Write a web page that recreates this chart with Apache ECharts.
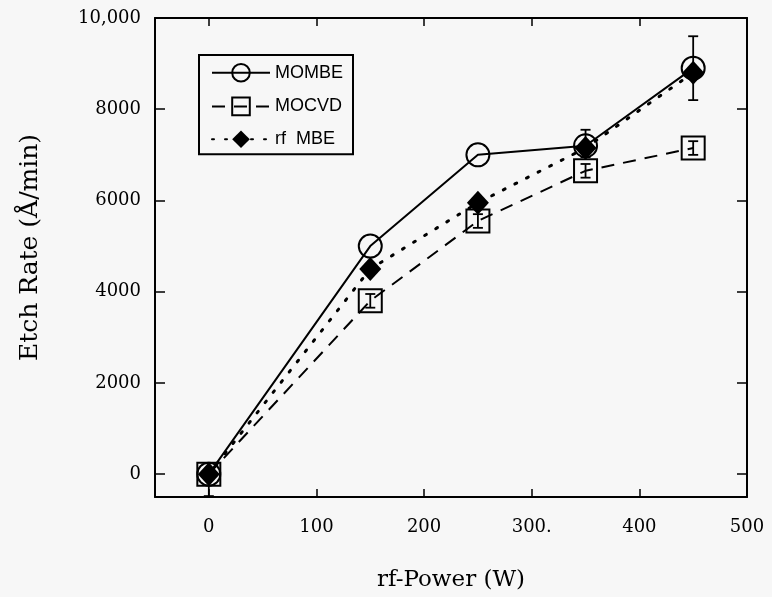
<!DOCTYPE html>
<html><head><meta charset="utf-8">
<script src="https://cdn.jsdelivr.net/npm/echarts@6/dist/echarts.min.js"></script>
<style>html,body{margin:0;padding:0;background:#f7f7f7}#c{width:772px;height:597px}</style>
</head><body><div id="c"></div>
<script>
const power = [0, 150, 250, 350, 450];
const mombe = [0, 5000, 7000, 7200, 8900];
const mocvd = [0, 3800, 5550, 6650, 7150];
const rfmbe = [0, 4500, 5950, 7150, 8800];
// [x, low, high]
const errBars = [[450, 8200, 9600], [350, 6950, 7550], [150, 3650, 3950], [250, 5400, 5700], [350, 6500, 6800], [450, 7000, 7300], [0, -480, 0]];
const xTicks = [0, 100, 200, 300, 400];
const xLabelValues = [0, 100, 200, 300, 400, 500];
const xLabels = ['0', '100', '200', '300.', '400', '500'];
const yTicks = [0, 2000, 4000, 6000, 8000];
const yLabelValues = [0, 2000, 4000, 6000, 8000, 10000];
const yLabels = ['0', '2000', '4000', '6000', '8000', '10,000'];

const serif = 'DejaVu Serif';
const pair = (xs, ys) => xs.map((x, i) => [x, ys[i]]);
const axLine = {show: true, onZero: false, lineStyle: {color: '#000', width: 2}};
const tickStyle = {lineStyle: {color: '#000', width: 1.5}};

const chart = echarts.init(document.getElementById('c'));
chart.setOption({
  backgroundColor: '#f7f7f7',
  animation: false,
  grid: {left: 155, right: 25, top: 18, bottom: 100},
  legend: {
    orient: 'vertical', left: 199, top: 55,
    padding: [8, 10, 6, 12], itemGap: 14, itemWidth: 58, itemHeight: 22,
    borderColor: '#000', borderWidth: 2,
    textStyle: {fontFamily: 'Liberation Sans', fontSize: 18, color: '#000'},
    data: ['MOMBE', 'MOCVD', 'rf  MBE']
  },
  xAxis: [{
    type: 'value', min: -50, max: 500, position: 'bottom',
    axisLine: axLine, splitLine: {show: false},
    axisTick: Object.assign({inside: true, length: 8, customValues: xTicks}, tickStyle),
    axisLabel: {customValues: xLabelValues, margin: 21, fontFamily: serif, fontSize: 18, color: '#000',
      formatter: v => xLabels[xLabelValues.indexOf(v)], showMaxLabel: true, showMinLabel: true},
    name: 'rf-Power (W)', nameLocation: 'middle', nameGap: 72,
    nameTextStyle: {fontFamily: serif, fontSize: 23, color: '#000'}
  }, {
    type: 'value', min: -50, max: 500, position: 'top',
    axisLine: axLine, splitLine: {show: false},
    axisTick: Object.assign({inside: true, length: 8, customValues: xTicks}, tickStyle),
    axisLabel: {show: false}
  }],
  yAxis: [{
    type: 'value', min: -500, max: 10000, position: 'left',
    axisLine: axLine, splitLine: {show: false},
    axisTick: Object.assign({inside: true, length: 10, customValues: yTicks}, tickStyle),
    axisLabel: {customValues: yLabelValues, margin: 14, fontFamily: serif, fontSize: 18, color: '#000',
      formatter: v => yLabels[yLabelValues.indexOf(v)], showMaxLabel: true},
    name: 'Etch Rate (Å/min)', nameLocation: 'middle', nameGap: 112,
    nameTextStyle: {fontFamily: serif, fontSize: 25, color: '#000', padding: [0, 0, 0, 20]}
  }, {
    type: 'value', min: -500, max: 10000, position: 'right',
    axisLine: axLine, splitLine: {show: false},
    axisTick: Object.assign({inside: true, length: 10, customValues: yTicks}, tickStyle),
    axisLabel: {show: false}
  }],
  series: [{
    name: 'MOCVD', type: 'line', data: pair(power, mocvd), z: 2,
    symbol: 'rect', symbolSize: [23, 23],
    lineStyle: {color: '#000', width: 2, type: [13, 9]},
    itemStyle: {color: 'rgba(0,0,0,0)', borderColor: '#000', borderWidth: 2}
  }, {
    name: 'MOMBE', type: 'line', data: pair(power, mombe), z: 3,
    symbol: 'circle', symbolSize: 23,
    lineStyle: {color: '#000', width: 2},
    itemStyle: {color: 'rgba(0,0,0,0)', borderColor: '#000', borderWidth: 2}
  }, {
    name: 'rf  MBE', type: 'line', data: pair(power, rfmbe), z: 4,
    symbol: 'diamond', symbolSize: [22, 24],
    lineStyle: {color: '#000', width: 3, type: [2, 11], cap: 'round'},
    itemStyle: {color: '#000', borderColor: '#000', borderWidth: 0}
  }, {
    type: 'custom', z: 5, data: errBars,
    renderItem: (params, api) => {
      const top = api.coord([api.value(0), api.value(2)]);
      const bot = api.coord([api.value(0), api.value(1)]);
      const w = 5;
      const st = {stroke: '#000', lineWidth: 1.8};
      return {type: 'group', children: [
        {type: 'line', shape: {x1: top[0], y1: top[1], x2: bot[0], y2: bot[1]}, style: st},
        {type: 'line', shape: {x1: top[0] - w, y1: top[1], x2: top[0] + w, y2: top[1]}, style: st},
        {type: 'line', shape: {x1: bot[0] - w, y1: bot[1], x2: bot[0] + w, y2: bot[1]}, style: st}
      ]};
    }
  }]
});
</script></body></html>
